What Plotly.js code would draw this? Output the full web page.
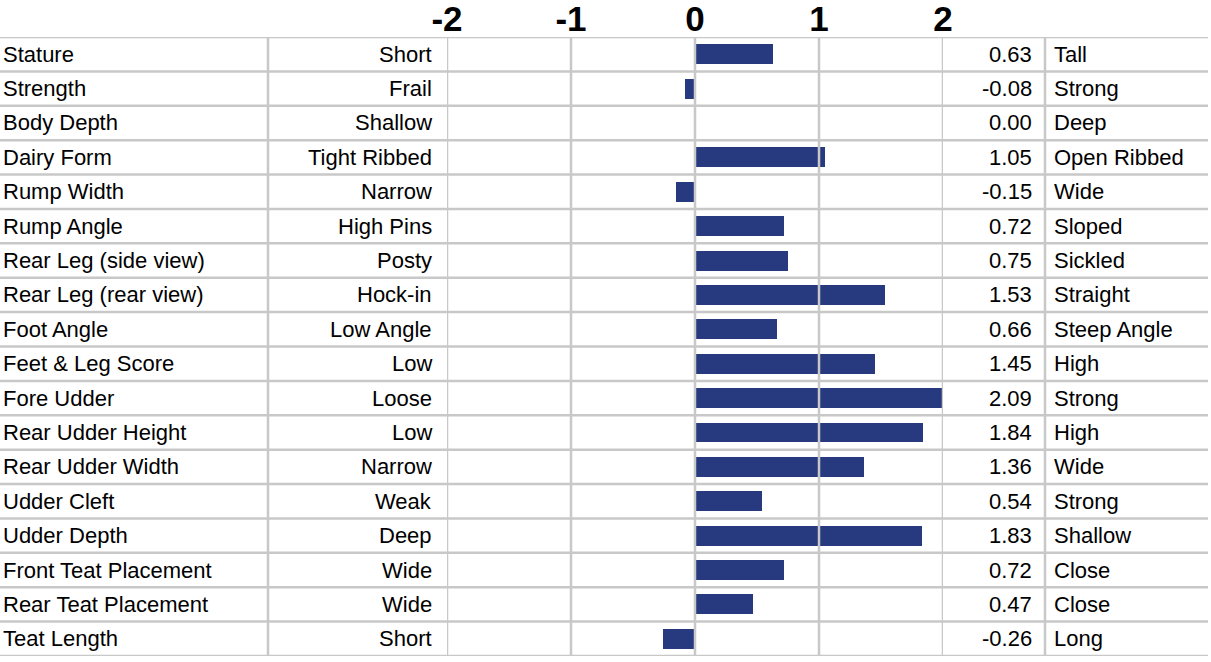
<!DOCTYPE html>
<html>
<head>
<meta charset="utf-8">
<script src="https://cdn.plot.ly/plotly-3.0.1.min.js"></script>
<style>html,body{margin:0;padding:0;background:#fff;}#chart{width:1211px;height:662px;}</style>
</head>
<body>
<div id="chart"></div>
<script>
const traits = ["Stature","Strength","Body Depth","Dairy Form","Rump Width","Rump Angle","Rear Leg (side view)","Rear Leg (rear view)","Foot Angle","Feet & Leg Score","Fore Udder","Rear Udder Height","Rear Udder Width","Udder Cleft","Udder Depth","Front Teat Placement","Rear Teat Placement","Teat Length"];
const lowLabels = ["Short","Frail","Shallow","Tight Ribbed","Narrow","High Pins","Posty","Hock-in","Low Angle","Low","Loose","Low","Narrow","Weak","Deep","Wide","Wide","Short"];
const highLabels = ["Tall","Strong","Deep","Open Ribbed","Wide","Sloped","Sickled","Straight","Steep Angle","High","Strong","High","Wide","Strong","Shallow","Close","Close","Long"];
const values = [0.63,-0.08,0.00,1.05,-0.15,0.72,0.75,1.53,0.66,1.45,2.09,1.84,1.36,0.54,1.83,0.72,0.47,-0.26];
const tickVals = [-2,-1,0,1,2];
const tickText = ["-2","-1","0","1","2"];

const W = 1211, H = 662;
const px = v => v / W;
const FONT = "Liberation Sans, Arial, sans-serif";
const gridColor = "#c8c8c8";
const n = traits.length;

const trace = {
  type: "bar",
  orientation: "h",
  x: values,
  y: traits,
  marker: {color: "#283a7f", line: {width: 0}},
  width: 0.58,
  hoverinfo: "x+y"
};

const annotations = [];
traits.forEach((t, i) => {
  annotations.push({xref: "paper", yref: "y", x: px(1), y: t, text: t, showarrow: false, xanchor: "left", yanchor: "middle", font: {family: FONT, size: 22, color: "#000"}});
  annotations.push({xref: "paper", yref: "y", x: px(434), y: t, text: lowLabels[i], showarrow: false, xanchor: "right", yanchor: "middle", font: {family: FONT, size: 22, color: "#000"}});
  annotations.push({xref: "paper", yref: "y", x: px(1034), y: t, text: values[i].toFixed(2), showarrow: false, xanchor: "right", yanchor: "middle", font: {family: FONT, size: 22, color: "#000"}});
  annotations.push({xref: "paper", yref: "y", x: px(1052), y: t, text: highLabels[i], showarrow: false, xanchor: "left", yanchor: "middle", font: {family: FONT, size: 22, color: "#000"}});
});

const shapes = [];
for (let i = 0; i <= n; i++) {
  shapes.push({type: "line", xref: "paper", yref: "y", x0: 0, x1: px(1208), y0: i - 0.5, y1: i - 0.5, line: {color: gridColor, width: 2.5}, layer: "above"});
}
[268, 1045].forEach(xp => {
  shapes.push({type: "line", xref: "paper", yref: "y", x0: px(xp), x1: px(xp), y0: -0.5, y1: n - 0.5, line: {color: gridColor, width: 2.5}, layer: "above"});
});
tickVals.forEach(v => {
  shapes.push({type: "line", xref: "x", yref: "y", x0: v, x1: v, y0: -0.5, y1: n - 0.5, line: {color: gridColor, width: 2.5}, layer: "above"});
});

const layout = {
  width: W, height: H,
  margin: {l: 0, r: 0, t: 0, b: 0, pad: 0},
  paper_bgcolor: "#fff", plot_bgcolor: "#fff",
  showlegend: false,
  bargap: 0,
  xaxis: {
    domain: [px(447), px(943)],
    range: [-2, 2],
    side: "top",
    tickvals: tickVals,
    ticktext: tickText,
    ticks: "",
    ticklabelstandoff: -2,
    showgrid: false,
    zeroline: false,
    showline: false,
    fixedrange: true,
    tickfont: {family: "Liberation Sans Narrow, Liberation Sans, Arial, sans-serif", size: 35, weight: "bold", color: "#000"}
  },
  yaxis: {
    domain: [(H - 656) / H, (H - 37) / H],
    range: [n - 0.5, -0.5],
    type: "category",
    showticklabels: false,
    showgrid: false,
    zeroline: false,
    ticks: "",
    fixedrange: true
  },
  annotations: annotations,
  shapes: shapes
};

Plotly.newPlot("chart", [trace], layout, {displayModeBar: false, staticPlot: true});
</script>
</body>
</html>
